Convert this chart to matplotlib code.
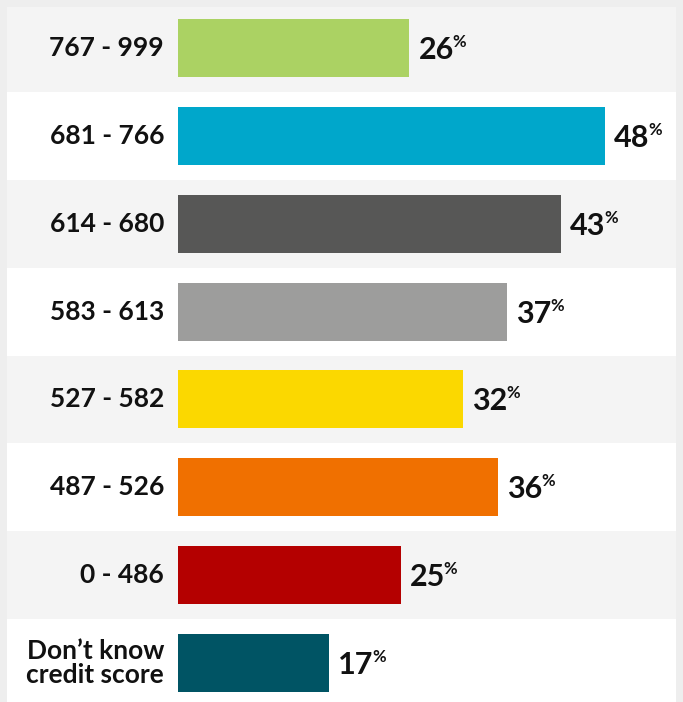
# horizontal bar chart of share by credit score band

import matplotlib
matplotlib.use('Agg')
import matplotlib.pyplot as plt

# data
bands = ['767 - 999', '681 - 766', '614 - 680', '583 - 613',
         '527 - 582', '487 - 526', '0 - 486', 'Don\u2019t know\ncredit score']
shares = [26, 48, 43, 37, 32, 36, 25, 17]
bar_colors = ['#abd263', '#00a7cb', '#575756', '#9d9d9c',
              '#fbd800', '#f07000', '#b40000', '#005464']

plt.rcParams['font.family'] = ['Lato', 'DejaVu Sans']

fig = plt.figure(figsize=(6.83, 7.02), dpi=100)
fig.patch.set_facecolor('#eeeeee')
ax = fig.add_axes([0, 0, 1, 1])
ax.set_facecolor('#eeeeee')

# 8.9 px per percent, bars start 178 px from the left
px_per_unit = 8.9
row_px = 87.86
ax.set_xlim(-178 / px_per_unit, (683 - 178) / px_per_unit)
top = -48 / row_px
ax.set_ylim(top + 702 / row_px, top)
ax.axis('off')

# alternating row backgrounds
for i in range(len(bands)):
    ax.axhspan(max(i - 0.5, top + 7 / row_px), i + 0.5,
               xmin=7 / 683, xmax=676 / 683,
               color='#f4f4f4' if i % 2 == 0 else 'white', zorder=0, lw=0)

ypos = list(range(len(bands)))
ax.barh(ypos, shares, height=58 / row_px, color=bar_colors, zorder=2)

# category labels
for y, name in zip(ypos, bands):
    ax.annotate(name, (0, y), xytext=(-14, 0), textcoords='offset pixels',
                ha='right', va='center', fontsize=19, fontweight='bold',
                color='#111111', linespacing=1.0)

# value labels with a small raised percent sign
for y, v in zip(ypos, shares):
    ax.annotate(str(v), (v, y), xytext=(9, -11), textcoords='offset pixels',
                ha='left', va='baseline', fontsize=22, fontweight='bold',
                color='#111111')

fig.canvas.draw()
renderer = fig.canvas.get_renderer()
for t, y, v in zip(ax.texts[len(bands):], ypos, shares):
    bb = t.get_window_extent(renderer)
    ax.annotate('%', (v, y), xytext=(9 + bb.width - 1, -11 + 12),
                textcoords='offset pixels', ha='left', va='baseline',
                fontsize=12, fontweight='bold', color='#111111')

fig.savefig('out.png', dpi=100, facecolor=fig.get_facecolor())
